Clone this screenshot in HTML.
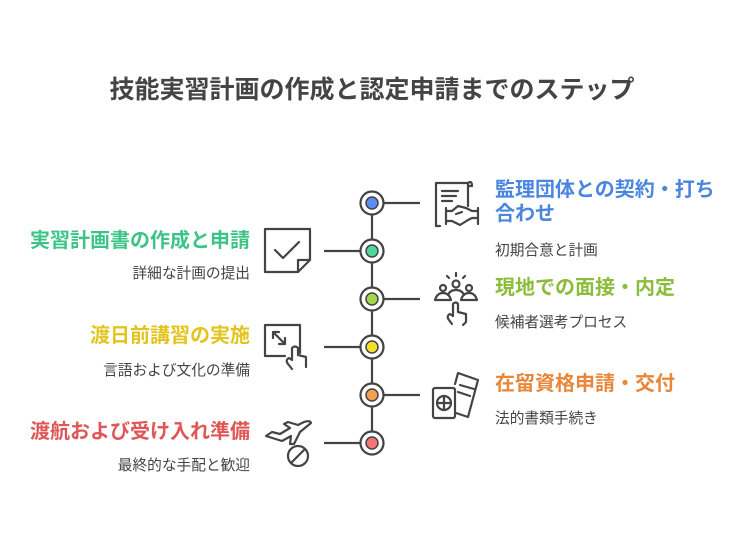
<!DOCTYPE html>
<html><head><meta charset="utf-8"><style>
body{margin:0;width:744px;height:540px;background:#fff;position:relative;font-family:"Liberation Sans","Noto Sans CJK JP",sans-serif;overflow:hidden}
.t{position:absolute;font-weight:bold;font-size:20px;line-height:24px;white-space:nowrap}
.s{position:absolute;font-size:14.7px;color:#444;line-height:18px;white-space:nowrap}
.l{text-align:right;right:494px}
.r{left:495px}
</style></head><body>
<div style="position:absolute;left:0;width:744px;top:74px;text-align:center;font-size:25px;font-weight:bold;color:#444;line-height:32px">技能実習計画の作成と認定申請までのステップ</div>

<div class="t r" style="top:178px;color:#4a86e0;line-height:24px">監理団体との契約・打ち<br>合わせ</div>
<div class="s r" style="top:242px">初期合意と計画</div>
<div class="t r" style="top:276px;color:#8bbd3a">現地での面接・内定</div>
<div class="s r" style="top:314px">候補者選考プロセス</div>
<div class="t r" style="top:372px;color:#e8873a">在留資格申請・交付</div>
<div class="s r" style="top:410px">法的書類手続き</div>

<div class="t l" style="top:229px;color:#3cc488">実習計画書の作成と申請</div>
<div class="s l" style="top:265px">詳細な計画の提出</div>
<div class="t l" style="top:324px;color:#e2c41c">渡日前講習の実施</div>
<div class="s l" style="top:362px">言語および文化の準備</div>
<div class="t l" style="top:420px;color:#e05555">渡航および受け入れ準備</div>
<div class="s l" style="top:457px">最終的な手配と歓迎</div>

<svg width="744" height="540" style="position:absolute;left:0;top:0" fill="none" stroke="#444" stroke-width="2.2" stroke-linecap="round" stroke-linejoin="round">
<line x1="372" y1="203" x2="372" y2="443"/>
<g stroke-linecap="butt">
<line x1="384" y1="203" x2="420" y2="203"/>
<line x1="324" y1="251" x2="360" y2="251"/>
<line x1="384" y1="299" x2="420" y2="299"/>
<line x1="324" y1="347" x2="360" y2="347"/>
<line x1="384" y1="395" x2="420" y2="395"/>
<line x1="324" y1="443" x2="360" y2="443"/>
</g>
<g fill="#fff"><circle cx="372" cy="203" r="11.5"/><circle cx="372" cy="251" r="11.5"/><circle cx="372" cy="299" r="11.5"/><circle cx="372" cy="347" r="11.5"/><circle cx="372" cy="395" r="11.5"/><circle cx="372" cy="443" r="11.5"/></g>
<g stroke-width="1.5">
<circle cx="372" cy="203" r="6" fill="#5b8ef0"/><circle cx="372" cy="251" r="6" fill="#4fd69c"/><circle cx="372" cy="299" r="6" fill="#a4d84c"/><circle cx="372" cy="347" r="6" fill="#f4df2a"/><circle cx="372" cy="395" r="6" fill="#f5a050"/><circle cx="372" cy="443" r="6" fill="#f27474"/>
</g>
<path d="M436 226 V183 H468 V206 M468 183 Q472 180 472 186 H468"/>
<path d="M442 191 H458 M442 196 H456 M442 201 H452 M436 226 H440"/>
<path d="M446 211 H452 L458 206 L466 208 L472 211 H478 M446 221 H452 L460 225 L468 220 L472 218 H478 M446 208 V224 M478 208 V224 M456 214 L462 212"/>
<path d="M265 272 V229 H310 V260 L298 272 Z M298 272 V260 H310"/>
<path d="M275 250 L283 258 L299 242"/>
<circle cx="443" cy="288" r="3"/><circle cx="456" cy="284" r="3.5"/><circle cx="469" cy="288" r="3"/>
<path d="M435 300 Q437 293 443 293 Q449 293 451 300 Z M448 295 Q450 290 456 290 Q462 290 464 295 M461 300 Q463 293 469 293 Q475 293 477 300 Z"/>
<path d="M456 273 V276 M447 276 L449 278 M465 276 L463 278"/>
<path d="M453 316 V304 Q456 301 458 304 V312 L466 314 V322 L463 325 M453 316 L450 314 Q446 316 449 320 L452 324"/>
<path d="M300 353 V325 H265 V356 H285"/>
<path d="M273 332 L285 344 M273 332 H279 M273 332 V338 M285 344 H279 M285 344 V338"/>
<path d="M292 360 V348 Q295 345 298 348 V355 L306 357 V367 M292 360 L289 358 Q285 360 288 364 L292 369"/>
<rect x="433" y="388" width="22" height="30" rx="2"/>
<circle cx="444" cy="403" r="7"/><path d="M437 403 H451 M444 396 V410"/>
<path d="M455 384 L458 373 L478 380 L468 417 L456 413 M460 385 L474 389 M458 392 L470 396"/>
<path d="M266 436 L272 432 L280 434 L290 428 L284 424 L288 422 L298 425 L304 422 Q310 420 311 423 L300 432 L294 444 L290 444 L291 436 L282 441 Z"/>
<circle cx="298" cy="456" r="10"/><path d="M291 463 L305 449"/>
</svg>
</body></html>
